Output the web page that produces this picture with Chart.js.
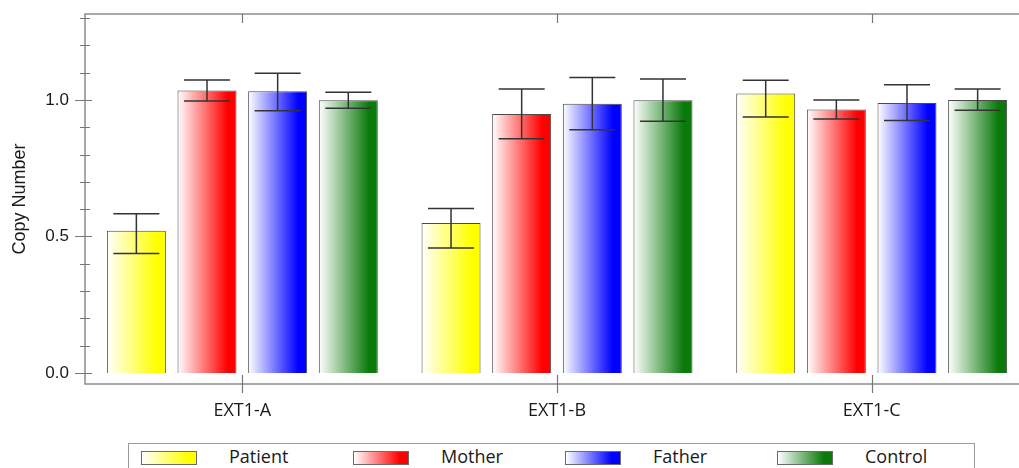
<!DOCTYPE html>
<html>
<head>
<meta charset="utf-8">
<script src="https://cdn.jsdelivr.net/npm/chart.js@4.4.1/dist/chart.umd.min.js"></script>
<style>
    html, body { margin: 0; padding: 0; background: #fff; overflow: hidden; }
    body { width: 1019px; height: 468px; position: relative; }
    #wrap { position: absolute; left: 0; top: 0; width: 1040px; height: 430px; }
    #legend {
        position: absolute; left: 128px; top: 443px; width: 845px; height: 40px;
        border: 1px solid #9a9a9a; font-family: "Open Sans", sans-serif; font-size: 18px; color: #1a1a1a;
    }
    .item { position: absolute; top: 0; width: 212px; height: 30px; }
    .swatch { position: absolute; left: 0; top: 7px; width: 54px; height: 12px; border: 1px solid #6a6a6a; }
    .label { position: absolute; left: 88px; top: 0; white-space: nowrap; line-height: 24px; }
</style>
</head>
<body>
<div id="wrap"><canvas id="copyChart" width="1040" height="430"></canvas></div>
<div id="legend"></div>
<script>
// Chart data
const categories = ['EXT1-A', 'EXT1-B', 'EXT1-C'];
const seriesNames = ['Patient', 'Mother', 'Father', 'Control'];
const seriesColors = ['#ffff00', '#ff0000', '#0000ff', '#0a7a0a'];

const patient = [0.521, 0.549, 1.024];
const mother = [1.035, 0.949, 0.965];
const father = [1.032, 0.986, 0.989];
const control = [0.999, 0.999, 1.000];

// error bar ends (low / high)
const patientLow = [0.438, 0.458, 0.938];
const patientHigh = [0.583, 0.603, 1.072];
const motherLow = [0.996, 0.858, 0.930];
const motherHigh = [1.073, 1.040, 1.000];
const fatherLow = [0.961, 0.891, 0.925];
const fatherHigh = [1.098, 1.082, 1.056];
const controlLow = [0.970, 0.922, 0.962];
const controlHigh = [1.028, 1.077, 1.040];

const yTicks = [0.0, 0.5, 1.0];

const CAT_PCT = 0.898;
const BAR_PCT = 0.835;

// Horizontal white -> colour fill for each bar
function barFill(c) {
    const color = seriesColors[c.datasetIndex];
    const xs = c.chart.scales.x;
    if (!xs || c.type !== 'data' || !xs.width) return color;
    const cw = xs.width / categories.length;
    const slot = cw * CAT_PCT / seriesNames.length;
    const left = xs.getPixelForValue(c.dataIndex) - cw * CAT_PCT / 2 + slot * c.datasetIndex + slot * (1 - BAR_PCT) / 2;
    const w = slot * BAR_PCT;
    const g = c.chart.ctx.createLinearGradient(left, 0, left + w, 0);
    g.addColorStop(0, '#ffffff');
    g.addColorStop(0.85, color);
    g.addColorStop(1, color);
    return g;
}

// Error bars
const errorBars = {
    id: 'errorBars',
    afterDatasetsDraw(chart) {
        const { ctx, scales: { y } } = chart;
        ctx.save();
        ctx.strokeStyle = '#333';
        ctx.lineWidth = 1.5;
        chart.data.datasets.forEach((ds, di) => {
            chart.getDatasetMeta(di).data.forEach((bar, i) => {
                const yl = y.getPixelForValue(ds.errLow[i]);
                const yh = y.getPixelForValue(ds.errHigh[i]);
                ctx.beginPath();
                ctx.moveTo(bar.x, yl); ctx.lineTo(bar.x, yh);
                ctx.moveTo(bar.x - 23, yl); ctx.lineTo(bar.x + 23, yl);
                ctx.moveTo(bar.x - 23, yh); ctx.lineTo(bar.x + 23, yh);
                ctx.stroke();
            });
        });
        ctx.restore();
    }
};

// Frame box and tick marks crossing the axes
const frame = {
    id: 'frame',
    afterDatasetsDraw(chart) {
        const { ctx, chartArea: a, scales: { x, y } } = chart;
        ctx.save();
        ctx.strokeStyle = '#8c8c8c';
        ctx.lineWidth = 1.5;
        ctx.strokeRect(a.left, a.top, a.right - a.left, a.bottom - a.top);
        ctx.strokeStyle = '#777';
        ctx.lineWidth = 1.2;
        ctx.beginPath();
        y.ticks.forEach(t => {
            const py = Math.round(y.getPixelForValue(t.value)) + 0.5;
            const major = Math.abs(t.value * 2 - Math.round(t.value * 2)) < 1e-6;
            ctx.moveTo(a.left - (major ? 10 : 5), py);
            ctx.lineTo(a.left + (major ? 7 : 5), py);
        });
        x.ticks.forEach((t, i) => {
            const px = Math.round(x.getPixelForValue(i)) + 0.5;
            ctx.moveTo(px, a.bottom + 9); ctx.lineTo(px, a.bottom - 9);
            ctx.moveTo(px, a.top); ctx.lineTo(px, a.top + 9);
        });
        ctx.stroke();
        ctx.restore();
    }
};

const values = [patient, mother, father, control];
const lows = [patientLow, motherLow, fatherLow, controlLow];
const highs = [patientHigh, motherHigh, fatherHigh, controlHigh];

const copyCtx = document.getElementById('copyChart').getContext('2d');
new Chart(copyCtx, {
    type: 'bar',
    data: {
        labels: categories,
        datasets: seriesNames.map((name, i) => ({
            label: name,
            data: values[i],
            errLow: lows[i],
            errHigh: highs[i],
            backgroundColor: barFill,
            borderColor: '#4a4a4a',
            borderWidth: 1,
            categoryPercentage: CAT_PCT,
            barPercentage: BAR_PCT
        }))
    },
    options: {
        responsive: false,
        animation: false,
        layout: {
            padding: { top: 14, right: 11, left: 0, bottom: 0 }
        },
        plugins: {
            legend: { display: false },
            tooltip: { enabled: false }
        },
        scales: {
            y: {
                min: -0.0403,
                max: 1.315,
                afterFit: s => { s.width = 85; s.paddingTop = 0; s.paddingBottom = 0; },
                afterBuildTicks: s => {
                    s.ticks = s.ticks.filter(t =>
                        t.value > -1e-6 && t.value < 1.3 + 1e-6 &&
                        Math.abs(t.value * 10 - Math.round(t.value * 10)) < 1e-6);
                },
                ticks: {
                    stepSize: 0.1,
                    includeBounds: false,
                    padding: 16,
                    color: '#1a1a1a',
                    font: { family: '"Liberation Sans", Arial, sans-serif', size: 17 },
                    callback: v => yTicks.some(t => Math.abs(t - v) < 1e-6) ? v.toFixed(1) : ''
                },
                grid: { display: false, drawTicks: false },
                border: { display: false },
                title: {
                    display: true,
                    text: 'Copy Number',
                    color: '#1a1a1a',
                    font: { family: '"Liberation Sans", Arial, sans-serif', size: 18 },
                    padding: { top: 9, bottom: 0 }
                }
            },
            x: {
                afterFit: s => { s.height = 46; s.paddingLeft = 0; s.paddingRight = 0; },
                ticks: {
                    padding: 16,
                    color: '#1a1a1a',
                    font: { family: '"Open Sans", sans-serif', size: 18 }
                },
                grid: { display: false, drawTicks: false },
                border: { display: false }
            }
        }
    },
    plugins: [errorBars, frame]
});

// Legend box
const legendEl = document.getElementById('legend');
seriesNames.forEach((name, i) => {
    const item = document.createElement('div');
    item.className = 'item';
    item.style.left = (12 + i * 212) + 'px';
    const sw = document.createElement('div');
    sw.className = 'swatch';
    sw.style.background = 'linear-gradient(to right, #ffffff, ' + seriesColors[i] + ' 85%)';
    const lb = document.createElement('span');
    lb.className = 'label';
    lb.textContent = name;
    item.appendChild(sw);
    item.appendChild(lb);
    legendEl.appendChild(item);
});
</script>
</body>
</html>
